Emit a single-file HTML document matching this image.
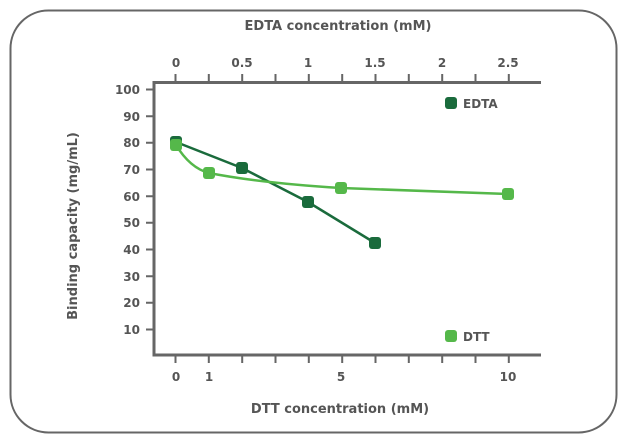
<!DOCTYPE html><html><head><style>body{margin:0;background:#fff}svg text{font-family:"DejaVu Sans","Liberation Sans",sans-serif;font-weight:bold;fill:#555}</style></head><body>
<svg width="627" height="440" viewBox="0 0 627 440">
<rect x="10.5" y="10.5" width="606" height="422" rx="38" fill="#fff" stroke="#666" stroke-width="2"/>
<g stroke="#666" stroke-width="3" fill="none">
<path d="M154 82.5H541M154 81V356.5M152.5 355H541"/>
</g>
<g stroke="#666" stroke-width="2">
<path d="M175.5 82V74M208.8 82V74M242.2 82V74M275.5 82V74M308.8 82V74M342.2 82V74M375.5 82V74M408.8 82V74M442.2 82V74M475.5 82V74M508.8 82V74"/>
<path d="M175.5 355V363M208.8 355V363M242.2 355V363M275.5 355V363M308.8 355V363M342.2 355V363M375.5 355V363M408.8 355V363M442.2 355V363M475.5 355V363M508.8 355V363"/>
<path d="M154 89.5H146M154 116.2H146M154 142.8H146M154 169.5H146M154 196.2H146M154 222.8H146M154 249.5H146M154 276.2H146M154 302.8H146M154 329.5H146"/>
</g>
<g font-size="12" text-anchor="middle">
<text x="176" y="67">0</text><text x="242" y="67">0.5</text><text x="308" y="67">1</text><text x="375" y="67">1.5</text><text x="442" y="67">2</text><text x="508" y="67">2.5</text>
<text x="176" y="381">0</text><text x="209" y="381">1</text><text x="341" y="381">5</text><text x="508" y="381">10</text>
</g>
<g font-size="12" text-anchor="end">
<text x="140" y="94">100</text><text x="140" y="121">90</text><text x="140" y="147">80</text><text x="140" y="174">70</text><text x="140" y="201">60</text><text x="140" y="227">50</text><text x="140" y="254">40</text><text x="140" y="281">30</text><text x="140" y="307">20</text><text x="140" y="334">10</text>
</g>
<text x="338" y="30" font-size="13" text-anchor="middle">EDTA concentration (mM)</text>
<text x="340" y="413" font-size="13" text-anchor="middle">DTT concentration (mM)</text>
<text transform="translate(77,226) rotate(-90)" font-size="13" text-anchor="middle">Binding capacity (mg/mL)</text>
<path d="M176 142 L242 168 L308 202 L375 243" stroke="#1a6b3c" stroke-width="2.5" fill="none"/>
<path d="M176 145 Q190 168 209 173 Q260 183 341 188 Q430 191 508 194" stroke="#55b84a" stroke-width="2.5" fill="none"/>
<g fill="#1a6b3c">
<rect x="170" y="136" width="12" height="12" rx="3"/><rect x="236" y="162" width="12" height="12" rx="3"/><rect x="302" y="196" width="12" height="12" rx="3"/><rect x="369" y="237" width="12" height="12" rx="3"/>
<rect x="445" y="97" width="12" height="12" rx="3"/>
</g>
<g fill="#55b84a">
<rect x="170" y="139" width="12" height="12" rx="3"/><rect x="203" y="167" width="12" height="12" rx="3"/><rect x="335" y="182" width="12" height="12" rx="3"/><rect x="502" y="188" width="12" height="12" rx="3"/>
<rect x="445" y="330" width="12" height="12" rx="3"/>
</g>
<text x="463" y="108" font-size="12">EDTA</text>
<text x="463" y="341" font-size="12">DTT</text>
</svg></body></html>
